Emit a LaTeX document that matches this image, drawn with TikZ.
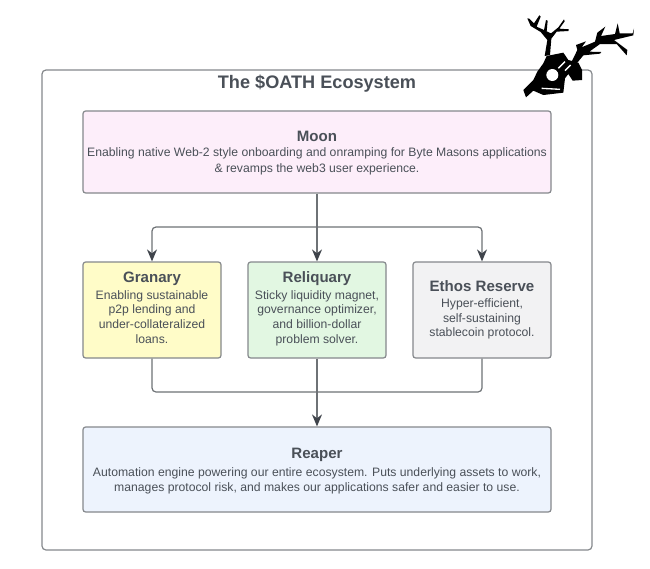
\documentclass[tikz,border=0pt]{standalone}
\usepackage{fontspec}
\setmainfont{Liberation Sans}
\usetikzlibrary{arrows.meta,calc}
\definecolor{ink}{HTML}{4A5058}
\definecolor{edge}{HTML}{85888C}
\definecolor{wire}{HTML}{6E7276}
\definecolor{tip}{HTML}{3F444B}
\tikzset{
  x=0.75pt,y=-0.75pt,
  boxnode/.style={draw=edge,line width=0.9pt,rounded corners=2pt,text=ink,align=center,inner sep=0pt,anchor=center},
  wide/.style={boxnode,minimum width=351pt,minimum height=61.5pt},
  narrow/.style={boxnode,minimum width=103.5pt,minimum height=72pt,font=\fontsize{9.15pt}{11pt}\selectfont},
  moonfont/.style={font=\fontsize{9.15pt}{12pt}\selectfont},
  reaperfont/.style={font=\fontsize{9.15pt}{11.25pt}\selectfont},
  wireline/.style={draw=wire,line width=0.9pt,rounded corners=3pt},
  arrowline/.style={wireline,-{Stealth[length=9pt,width=7.5pt,color=tip]}},
  ink body/.style={fill=black,draw=none},
}
\newcommand{\hd}[1]{{\fontsize{11.3pt}{14pt}\selectfont\bfseries #1}}
\newcommand{\lowrule}{\rule[-4pt]{0pt}{4pt}}
\begin{document}
\begin{tikzpicture}
\useasboundingbox (0,0) rectangle (650,568);
\fill[white] (0,0) rectangle (650,568);
\node[draw=edge,line width=0.9pt,rounded corners=3pt,minimum width=412.5pt,minimum height=360pt,inner sep=0pt] (frame) at (317,310) {};
\node[text=ink,inner sep=0pt,font=\fontsize{13.6pt}{15pt}\selectfont\bfseries] (title) at (317,83.5) {The \$OATH Ecosystem};
\node[wide,moonfont,fill={rgb,255:red,253;green,238;blue,250}] (moon) at (317,152) {\rule{0pt}{10pt}\hd{Moon}\\[-0.75pt]Enabling native Web-2 style onboarding and onramping for Byte Masons applications\\\& revamps the web3 user experience.};
\node[narrow,fill={rgb,255:red,255;green,252;blue,200}] (granary) at (152,310) {\hd{Granary}\\[1.75pt]Enabling sustainable\\p2p lending and\\under-collateralized\\loans.\lowrule};
\node[narrow,fill={rgb,255:red,226;green,247;blue,226}] (reliquary) at (317,310) {\hd{Reliquary}\\[1.75pt]Sticky liquidity magnet,\\governance optimizer,\\and billion-dollar\\problem solver.\lowrule};
\node[narrow,fill={rgb,255:red,242;green,242;blue,243}] (ethos) at (482,310) {\hd{Ethos Reserve}\\[1pt]Hyper-efficient,\\self-sustaining\\stablecoin protocol.};
\node[wide,reaperfont,minimum height=63.75pt,fill={rgb,255:red,237;green,243;blue,253}] (reaper) at (317,469.5) {\rule{0pt}{9.5pt}\hd{Reaper}\\[2.25pt]Automation engine powering our entire ecosystem. Puts underlying assets to work,\\manages protocol risk, and makes our applications safer and easier to use.};
\coordinate (top) at (317,227);
\coordinate (bot) at (317,392);
\draw[arrowline] (moon.south) -- (reliquary.north);
\draw[arrowline] (top) -| (granary.north);
\draw[arrowline] (top) -| (ethos.north);
\draw[wireline] (granary.south) |- (bot);
\draw[wireline] (ethos.south) |- (bot);
\draw[wireline] (reliquary.south) -- (bot);
\draw[arrowline] (bot) -- (reaper.north);
% skull emblem, drawn directly (zoomed-crop coordinates)
\begin{scope}[shift={(500,0)},x=0.25pt,y=-0.25pt]
\fill[ink body] (130,190) -- (140,168) -- (190,158) -- (205,180) -- (235,188) -- (246,210) -- (246,240) -- (218,242) -- (205,222) -- (195,235) -- (190,278) -- (130,285) -- (100,272) -- (78,292) -- (70,270) -- (100,240) -- (112,215) -- cycle;
\fill[white] (157,225) circle (18);
\draw[white,line width=1pt] (175,205) -- (195,185) (195,212) -- (212,195) (125,265) -- (180,268) (110,200) -- (125,180);
\fill[ink body] (215,185) -- (232,150) -- (228,135) -- (258,124) -- (245,142) -- (285,125) -- (292,98) -- (316,80) -- (303,108) -- (345,102) -- (353,70) -- (359,100) -- (398,100) -- (402,86) -- (400,106) -- (342,120) -- (382,150) -- (380,166) -- (350,132) -- (300,132) -- (268,155) -- (304,156) -- (300,161) -- (250,166) -- (232,188) -- cycle;
\fill[ink body] (134,168) -- (142,120) -- (122,96) -- (92,78) -- (82,55) -- (88,56) -- (102,70) -- (118,46) -- (122,50) -- (110,80) -- (132,90) -- (138,60) -- (143,62) -- (140,94) -- (153,100) -- (175,82) -- (192,58) -- (194,64) -- (178,86) -- (207,88) -- (205,93) -- (170,95) -- (154,116) -- (150,165) -- cycle;
\end{scope}
\end{tikzpicture}
\end{document}
